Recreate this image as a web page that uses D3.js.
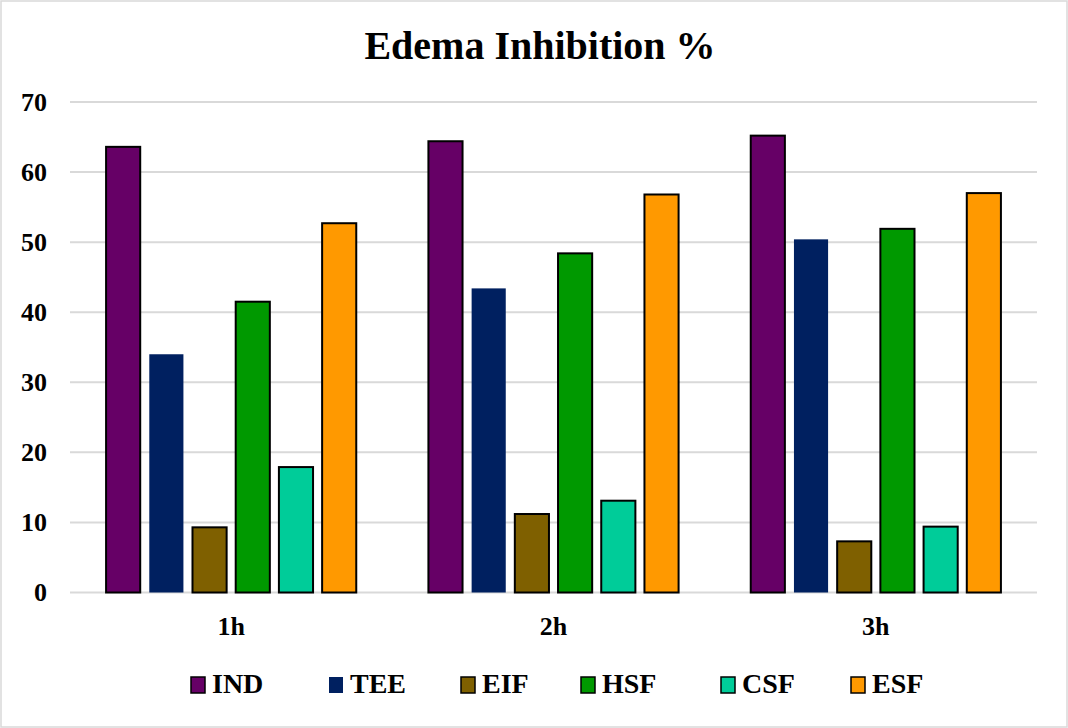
<!DOCTYPE html>
<html>
<head>
<meta charset="utf-8">
<script src="https://cdn.jsdelivr.net/npm/d3@7"></script>
<style>
  body { margin: 0; background: #fff; }
  text { font-family: "Palatino Linotype", "Book Antiqua", "Liberation Serif", serif; font-weight: bold; fill: #000; }
</style>
</head>
<body>
<div id="chart"></div>
<script>
// data
const times = ["1h", "2h", "3h"];
const groups = ["IND", "TEE", "EIF", "HSF", "CSF", "ESF"];
const IND = [63.6, 64.4, 65.2];
const TEE = [34.0, 43.4, 50.4];
const EIF = [9.3, 11.2, 7.3];
const HSF = [41.5, 48.4, 51.9];
const CSF = [17.9, 13.1, 9.4];
const ESF = [52.7, 56.8, 57.0];
const yTicks = [0, 10, 20, 30, 40, 50, 60, 70];

const seriesVals = { IND, TEE, EIF, HSF, CSF, ESF };
const colors = { IND: "#660066", TEE: "#002060", EIF: "#7f6000", HSF: "#009900", CSF: "#00cc99", ESF: "#ff9900" };

const W = 1068, H = 728;
const margin = { top: 102, right: 31, bottom: 135.5, left: 70 };
const width = W - margin.left - margin.right,
      height = H - margin.top - margin.bottom;

const root = d3.select("#chart").append("svg")
    .attr("width", W)
    .attr("height", H);

// outer frame
root.append("rect")
    .attr("x", 1).attr("y", 1)
    .attr("width", W - 2).attr("height", H - 2)
    .attr("fill", "#fff")
    .attr("stroke", "#d9d9d9")
    .attr("stroke-width", 1.5);

root.append("text")
    .attr("x", 540)
    .attr("y", 59)
    .attr("text-anchor", "middle")
    .style("font-size", "40px")
    .text("Edema Inhibition %");

const svg = root.append("g")
    .attr("transform", `translate(${margin.left},${margin.top})`);

const x0 = d3.scaleBand().domain(times).range([0, width]);
const x1 = d3.scaleBand().domain(groups).range([0, x0.bandwidth()])
    .paddingInner(0.21).paddingOuter(0.835);
const y = d3.scaleLinear().domain([0, 70]).range([height, 0]);

// gridlines
svg.append("g")
    .selectAll("line")
    .data(yTicks)
    .join("line")
    .attr("x1", 0).attr("x2", width)
    .attr("y1", d => y(d)).attr("y2", d => y(d))
    .attr("stroke", "#d9d9d9")
    .attr("stroke-width", 2);

// y axis labels
const yAxis = svg.append("g")
    .call(d3.axisLeft(y).tickValues(yTicks).tickSize(0).tickPadding(23));
yAxis.select(".domain").remove();
yAxis.selectAll("text").style("font-size", "26px").attr("font-family", null);

// x axis labels
const xAxis = svg.append("g")
    .attr("transform", `translate(0,${height})`)
    .call(d3.axisBottom(x0).tickSize(0).tickPadding(24));
xAxis.select(".domain").remove();
xAxis.selectAll("text").style("font-size", "26px").attr("font-family", null);

// bars
const rows = [];
times.forEach((t, i) => groups.forEach(g => rows.push({ time: t, key: g, value: seriesVals[g][i] })));

svg.append("g")
    .selectAll("rect")
    .data(rows)
    .join("rect")
    .attr("x", d => x0(d.time) + x1(d.key))
    .attr("y", d => y(d.value))
    .attr("width", x1.bandwidth())
    .attr("height", d => height - y(d.value))
    .attr("fill", d => colors[d.key])
    .attr("stroke", d => d.key === "TEE" ? "none" : "#000")
    .attr("stroke-width", 2);

// legend
const legendX = [191, 329, 461, 581, 721, 851];
const legend = root.append("g")
    .selectAll("g")
    .data(groups)
    .join("g")
    .attr("transform", (d, i) => `translate(${legendX[i]},677)`);

legend.append("rect")
    .attr("width", 14).attr("height", 16)
    .attr("fill", d => colors[d])
    .attr("stroke", d => d === "TEE" ? "none" : "#000")
    .attr("stroke-width", 1.5);

legend.append("text")
    .attr("x", 21)
    .attr("y", 16)
    .style("font-size", "28px")
    .text(d => d);
</script>
</body>
</html>
